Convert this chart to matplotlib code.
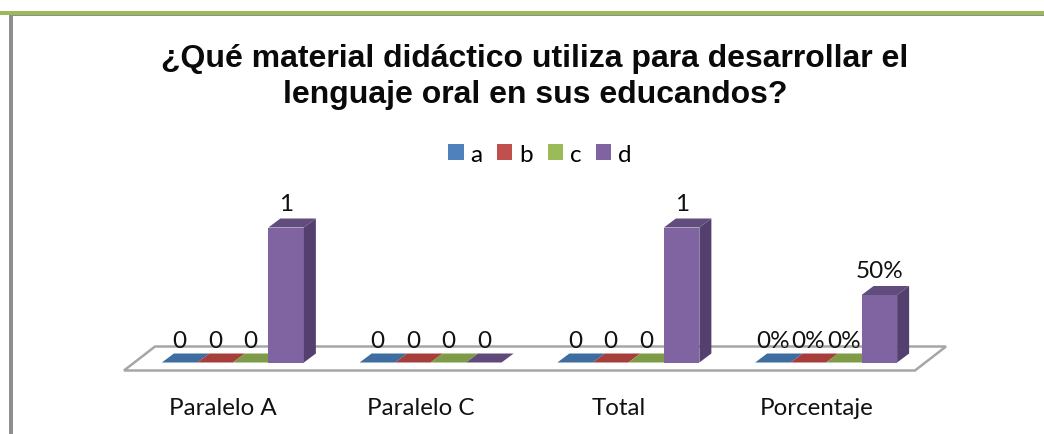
import matplotlib
matplotlib.use("Agg")
import matplotlib.pyplot as plt
from matplotlib.patches import Polygon, Rectangle

W, H = 1044, 435
categories = ["Paralelo A", "Paralelo C", "Total", "Porcentaje"]
series_names = ["a", "b", "c", "d"]
series_values = {
    "a": [0, 0, 0, 0],
    "b": [0, 0, 0, 0],
    "c": [0, 0, 0, 0],
    "d": [1, 0, 1, 0.5],
}
value_labels = {
    "a": ["0", "0", "0", "0%"],
    "b": ["0", "0", "0", "0%"],
    "c": ["0", "0", "0", "0%"],
    "d": ["1", "0", "1", "50%"],
}
front_colors = {"a": "#4F81BD", "b": "#C0504D", "c": "#9BBB59", "d": "#8064A2"}
flat_colors = {"a": "#3E6D9F", "b": "#A63F3C", "c": "#7E9B47", "d": "#5F4A7B"}
side_color = "#54406F"
top_color = "#614C7E"
font = ["Lato", "DejaVu Sans"]

fig = plt.figure(figsize=(W / 100, H / 100), dpi=100, facecolor="white")

# page frame
bg = fig.add_axes([0, 0, 1, 1])
bg.set_xlim(0, W)
bg.set_ylim(H, 0)
bg.axis("off")
bg.add_patch(Rectangle((0, 12), W, 3.5, color="#9BBB59", lw=0))
bg.add_patch(Rectangle((8.5, 15.5), W - 8.5, 1.5, color="#8E8E8E", lw=0))
bg.add_patch(Rectangle((8.5, 15.5), 4, H, color="#8E8E8E", lw=0))

# chart axes: x one unit = one category, y one unit = value 1
px_x = 197.75
px_y = 135.0
zero_y = 363.5
left = 124.0
ax = fig.add_axes([left / W, (H - zero_y - 8) / H, 4 * px_x / W, (8 + 150) / H])
ax.set_xlim(-0.5, 3.5)
ax.set_ylim(-8 / px_y, 150 / px_y)
ax.axis("off")

dx = 12 / px_x
dy = 9 / px_y
bar_w = 35.5 / px_x
bar_off = 10 / px_x
n = len(series_names)

# floor
fy0, fy1 = -8 / px_y, 16 / px_y
ax.add_patch(Polygon([(-0.5, fy0), (3.5, fy0), (3.5 + 31 / px_x, fy1), (-0.5 + 31 / px_x, fy1)],
                     closed=True, fc="white", ec="#A6A6A6", lw=1.8, clip_on=False, zorder=1))

for i, cat in enumerate(categories):
    for j, s in enumerate(series_names):
        v = series_values[s][i]
        x0 = i + bar_off + (j - n / 2) * bar_w
        x1 = x0 + bar_w
        z = 2 + j
        ax.add_patch(Polygon([(x0, v), (x1, v), (x1 + dx, v + dy), (x0 + dx, v + dy)],
                             closed=True, fc=(top_color if v > 0 else flat_colors[s]), lw=0, zorder=z))
        if v > 0:
            ax.bar(x0, v, width=bar_w, align="edge", color=front_colors[s], lw=0, zorder=z)
            ax.add_patch(Polygon([(x1, 0), (x1 + dx, dy), (x1 + dx, v + dy), (x1, v)],
                                 closed=True, fc=side_color, lw=0, zorder=z))
        ax.text((x0 + x1) / 2, v + dy + 15 / px_y if v > 0 else 22.5 / px_y, value_labels[s][i],
                ha="center", va="center", fontsize=17.5, family=font, color="#111111", zorder=10)
    ax.text(i, -45 / px_y, cat, ha="center", va="center", fontsize=17.4, family=font,
            color="#111111", clip_on=False)

fig.text(535 / W, 1 - 59 / H, "¿Qué material didáctico utiliza para desarrollar el",
         ha="center", va="center", fontsize=23, fontweight="bold", family="Liberation Sans", color="#0a0a0a")
fig.text(535 / W, 1 - 95 / H, "lenguaje oral en sus educandos?",
         ha="center", va="center", fontsize=23, fontweight="bold", family="Liberation Sans", color="#0a0a0a")

# legend
handles = [Rectangle((0, 0), 1, 1, color=front_colors[s], lw=0) for s in series_names]
fig.legend(handles, series_names, loc="center", bbox_to_anchor=(540 / W, 1 - 155 / H), ncol=4, frameon=False,
           prop={"family": font, "size": 17.5}, handlelength=0.62, handleheight=0.62,
           handletextpad=0.29, columnspacing=0.6)

fig.savefig("out.png", dpi=100, facecolor="white")
